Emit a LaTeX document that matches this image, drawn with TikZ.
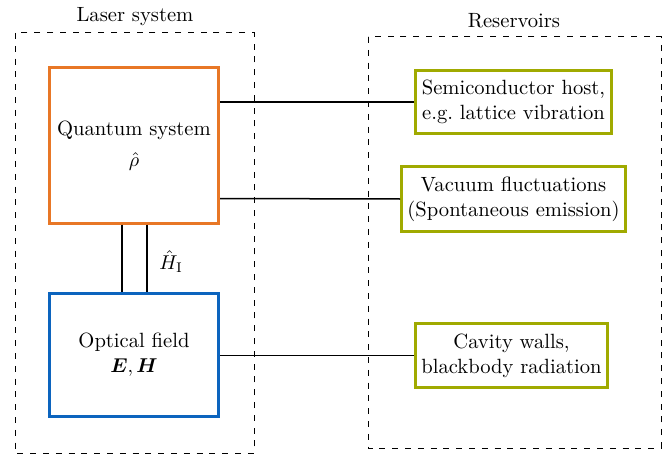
\documentclass[tikz,border=0pt]{standalone}
\usepackage{bm}
\usetikzlibrary{calc}
\definecolor{qorange}{RGB}{232,119,38}
\definecolor{fblue}{RGB}{12,100,190}
\definecolor{rolive}{RGB}{160,170,0}
\tikzset{
  every node/.style={font=\fontsize{10.3pt}{12.6pt}\selectfont},
  qbox/.style={draw=qorange, line width=1.5pt, align=center, inner sep=0pt},
  fbox/.style={draw=fblue, line width=1.5pt, align=center, inner sep=0pt},
  rbox/.style={draw=rolive, line width=1.5pt, align=center, inner sep=0pt},
  group/.style={draw, line width=0.5pt, dash pattern=on 3pt off 3.4pt},
  link/.style={line width=0.75pt},
}
\begin{document}
\begin{tikzpicture}[x=0.5pt,y=-0.5pt]
\useasboundingbox (0,0) rectangle (667,454);
% groups
\draw[group] (15,33) rectangle (254,453);
\draw[group] (368,37) rectangle (661,448);
\node (laserlbl) at (135,17) {Laser system};
\node (reslbl) at (514,21) {Reservoirs};
% laser system
\node[qbox, minimum width=84.5pt, minimum height=77.5pt] (quantum) at (134,145.5)
  {Quantum system\\[3pt] $\hat{\rho}$};
\node[fbox, minimum width=84.5pt, minimum height=61.5pt] (optical) at (134,355)
  {Optical field\\ $\bm{E},\bm{H}$};
% reservoirs
\node[rbox, minimum width=98pt, minimum height=31.5pt] (semi) at (513.5,102)
  {Semiconductor host,\\ e.g.\ lattice vibration};
\node[rbox, minimum width=112pt, minimum height=32.5pt] (vac) at (513.5,199)
  {Vacuum fluctuations\\ (Spontaneous emission)};
\node[rbox, minimum width=96pt, minimum height=32pt] (cav) at (511.5,355.5)
  {Cavity walls,\\ blackbody radiation};
% connectors
\draw[link] (quantum.east |- semi.west) -- (semi.west);
\draw[link] ($(quantum.east)+(0,53)$) -- (vac.west);
\draw[link] (optical.east |- cav.west) -- (cav.west);
\coordinate (qa) at ($(quantum.south)+(-12,0)$);
\coordinate (qb) at ($(quantum.south)+(13,0)$);
\draw[link] (qa) -- (qa |- optical.north);
\draw[link] (qb) -- (qb |- optical.north);
\node[anchor=west, inner sep=0pt] (hint) at (159,262) {$\hat{H}_{\mathrm{I}}$};
\end{tikzpicture}
\end{document}
